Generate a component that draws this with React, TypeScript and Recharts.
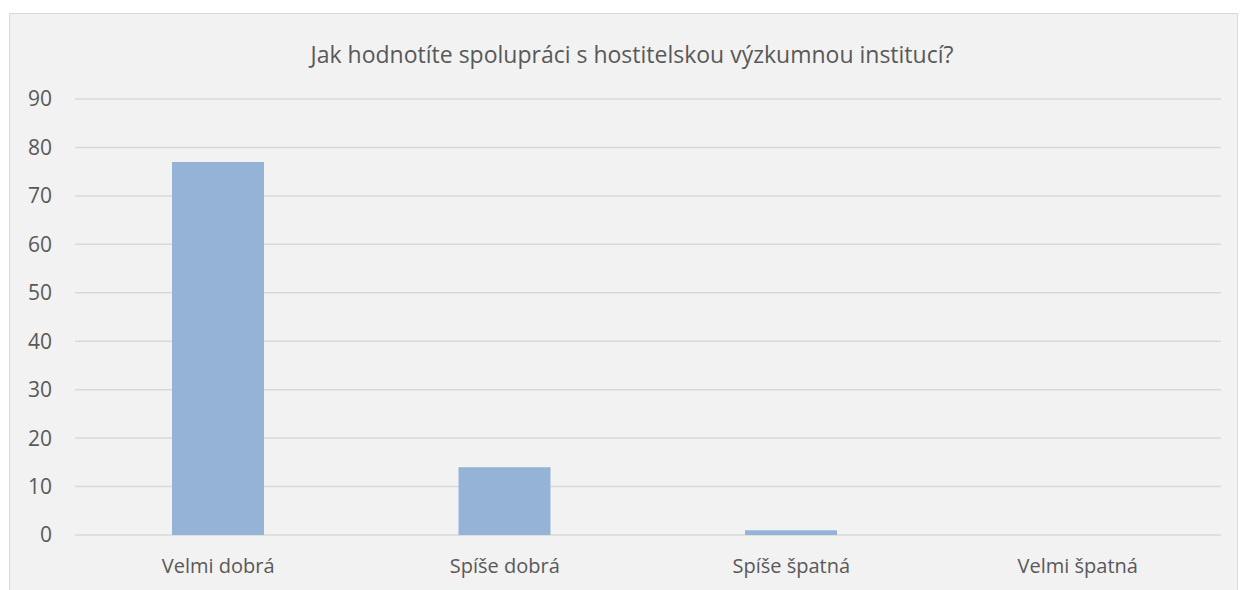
import { BarChart, Bar, XAxis, YAxis, CartesianGrid } from 'recharts';

const categories = ['Velmi dobrá', 'Spíše dobrá', 'Spíše špatná', 'Velmi špatná'];
const counts = [77, 14, 1, 0];
const yTicks = [0, 10, 20, 30, 40, 50, 60, 70, 80, 90];

const title = 'Jak hodnotíte spolupráci s hostitelskou výzkumnou institucí?';

const data = categories.map((name, i) => ({ name, value: counts[i] }));

const font = '"Open Sans", "Liberation Sans", sans-serif';

export default function App() {
  return (
    <div style={{ position: 'absolute', left: 0, top: 0, width: 1242, height: 590, background: '#fff', overflow: 'hidden', fontFamily: font }}>
      {/* chart area box */}
      <div style={{ position: 'absolute', left: 9, top: 13, width: 1227, height: 600, background: '#f2f2f2', border: '1px solid #d9d9d9' }} />
      <div style={{ position: 'absolute', left: 0, top: 38, width: 1264, textAlign: 'center', fontSize: 23, color: '#595959', whiteSpace: 'nowrap' }}>
        {title}
      </div>
      <div style={{ position: 'absolute', left: 0, top: 0 }}>
        <BarChart width={1242} height={590} data={data} margin={{ top: 99, right: 21, bottom: 0, left: 0 }}>
          <CartesianGrid vertical={false} stroke="#d9d9d9" strokeWidth={1.5} />
          <XAxis
            dataKey="name"
            height={55}
            axisLine={false}
            tickLine={false}
            tickSize={0}
            tickMargin={24}
            tick={{ fill: '#595959', fontSize: 20, fontFamily: font }}
          />
          <YAxis
            width={75}
            domain={[0, 90]}
            ticks={yTicks}
            axisLine={false}
            tickLine={false}
            tickSize={0}
            tickMargin={23}
            tick={{ fill: '#595959', fontSize: 21, fontFamily: font }}
          />
          <Bar dataKey="value" fill="#95b3d7" barSize={92} isAnimationActive={false} />
        </BarChart>
      </div>
    </div>
  );
}
